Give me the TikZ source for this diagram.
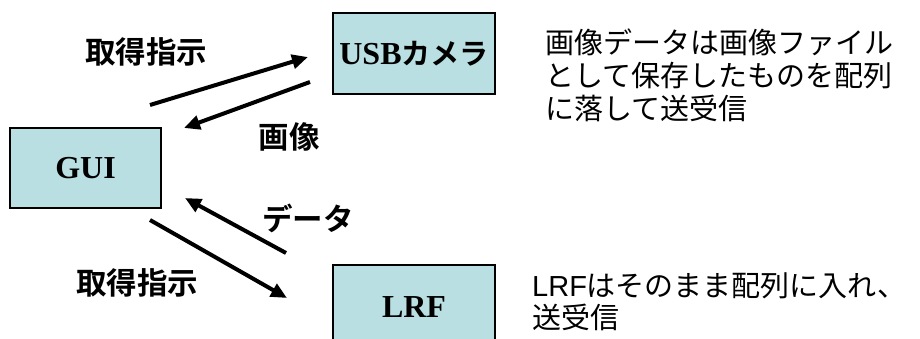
\documentclass[tikz,border=0pt]{standalone}
\usepackage{fontspec}
\newfontfamily\jp{Noto Sans CJK JP}[BoldFont={Noto Sans CJK JP Bold}]
\newfontfamily\ser{Liberation Serif}
\newfontfamily\lsans{Liberation Sans}
\usetikzlibrary{arrows.meta}
\definecolor{boxfill}{RGB}{185,223,226}
\begin{document}
\begin{tikzpicture}[x=1pt,y=-1pt,
  box/.style={draw=black,line width=1.3pt,fill=boxfill,inner sep=0pt},
  boxlabel/.style={font=\ser\bfseries\fontsize{32}{32}\selectfont},
  lab/.style={font=\jp\bfseries\fontsize{30.5}{30.5}\selectfont,inner sep=0pt},
  note/.style={font=\jp\fontsize{29}{29}\selectfont,inner sep=0pt,anchor=base west},
  arr/.style={line width=4pt,-{Triangle[length=16pt,width=14pt]}}]
\useasboundingbox (0,0) rectangle (920,339);
\clip (0,0) rectangle (920,339);
% boxes
\node[box,minimum width=162pt,minimum height=81pt] (usb) at (414,53.5) {};
\node[box,minimum width=151pt,minimum height=80pt] (gui) at (85.5,168) {};
\node[box,minimum width=162pt,minimum height=81pt] (lrf) at (414,305.5) {};
\node[boxlabel] (usbt) at (usb.center) {USB{\jp\bfseries\fontsize{29}{29}\selectfont カメラ}};
\node[boxlabel] (guit) at (gui.center) {GUI};
\node[boxlabel] (lrft) at (414,307) {LRF};
% arrow end points
\coordinate (a1s) at (150,105); \coordinate (a1e) at (308,57);
\coordinate (a2s) at (310,82);  \coordinate (a2e) at (184,128);
\coordinate (a3s) at (286,253); \coordinate (a3e) at (185,198);
\coordinate (a4s) at (150,220); \coordinate (a4e) at (287,298);
\draw[arr] (a1s) -- (a1e);
\draw[arr] (a2s) -- (a2e);
\draw[arr] (a3s) -- (a3e);
\draw[arr] (a4s) -- (a4e);
% arrow labels
\node[lab] (l1) at (146,52) {取得指示};
\node[lab] (l2) at (289,137) {画像};
\node[lab] (l3) at (308,218) {データ};
\node[lab] (l4) at (137,283) {取得指示};
% notes
\node[note] (n1) at (545,54) {画像データは画像ファイル};
\node[note] (n2) at (545,87) {として保存したものを配列};
\node[note] (n3) at (545,120) {に落して送受信};
\node[note] (n4) at (532,296) {{\lsans LRF}はそのまま配列に入れ、};
\node[note] (n5) at (532,328) {送受信};
\end{tikzpicture}
\end{document}
